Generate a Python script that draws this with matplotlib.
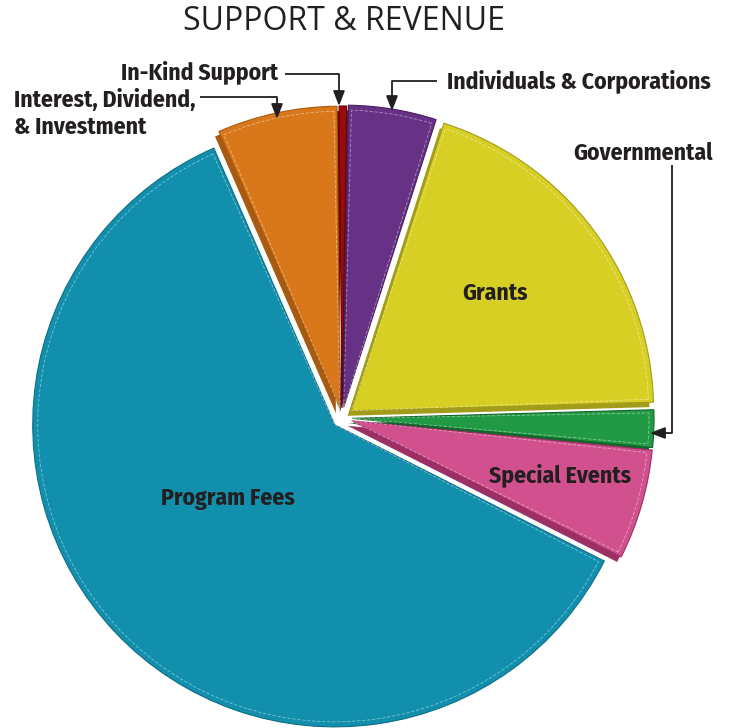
import matplotlib
matplotlib.use('Agg')
import matplotlib.pyplot as plt
from matplotlib.patches import Wedge

# ---- data ----
categories = ['Program Fees', 'Special Events', 'Governmental', 'Grants',
              'Individuals & Corporations', 'In-Kind Support',
              'Interest, Dividend,\n& Investment']
values = [61.0, 5.9, 2.0, 19.6, 4.7, 0.4, 6.4]
colors = ['#118fac', '#d1508e', '#229a45', '#d8cf24', '#673285', '#9b0b0b', '#d9781b']
dark_colors = ['#0c6f86', '#9c2f63', '#12662b', '#a39c1a', '#4a1f62', '#6b0505', '#a85a10']
title = 'SUPPORT & REVENUE'

W, H = 730, 728
def P(x, y):
    return (x, H - y)

fig = plt.figure(figsize=(7.3, 7.28), dpi=100)
ax = fig.add_axes([0, 0, 1, 1])

R = 302
cx, cy = P(342, 418)
expl = [10, 10, 10, 12, 11, 10, 10]
start = 113.6

# bevel / shadow layer
sh_wedges, _ = ax.pie(values, colors=dark_colors, startangle=start, counterclock=True,
                      radius=R, center=(cx - 4, cy - 5), explode=expl,
                      wedgeprops=dict(linewidth=0), frame=True)
sh_wedges[0].set_visible(False)

wedges, _ = ax.pie(values, colors=colors, startangle=start, counterclock=True,
                   radius=R, center=(cx, cy), explode=expl,
                   wedgeprops=dict(linewidth=0.8), frame=True)
for w, dc in zip(wedges, dark_colors):
    w.set_edgecolor(dc)

# subtle inner highlight lines
for w in wedges:
    t1, t2 = w.theta1, w.theta2
    if t2 - t1 < 3:
        continue
    hl = Wedge(w.center, w.r - 5, t1 + 0.6, t2 - 0.6, facecolor='none',
               edgecolor='white', alpha=0.45, lw=0.6, linestyle=(0, (4, 2)))
    ax.add_patch(hl)

ax.set_xlim(0, W)
ax.set_ylim(0, H)
ax.set_aspect('equal')
ax.axis('off')

txt = '#231f20'
lab_font = ['Fira Sans Condensed', 'DejaVu Sans']
fs = 17

ax.text(*P(344, 21), title, ha='center', va='center', fontsize=23,
        family=['Open Sans', 'DejaVu Sans'], color=txt)

# inner labels
ax.text(*P(495, 293), categories[3], ha='center', va='center', fontsize=fs,
        fontweight='bold', family=lab_font, color=txt)
ax.text(*P(560, 475), categories[1], ha='center', va='center', fontsize=fs,
        fontweight='bold', family=lab_font, color=txt)
ax.text(*P(228, 498), categories[0], ha='center', va='center', fontsize=fs,
        fontweight='bold', family=lab_font, color=txt)

# outer labels
ax.text(*P(447, 81), categories[4], ha='left', va='center', fontsize=fs,
        fontweight='bold', family=lab_font, color=txt)
ax.text(*P(713, 153), categories[2], ha='right', va='center', fontsize=fs,
        fontweight='bold', family=lab_font, color=txt)
ax.text(*P(278, 72), categories[5], ha='right', va='center', fontsize=fs,
        fontweight='bold', family=lab_font, color=txt)
ax.text(*P(14, 114), categories[6], ha='left', va='center', fontsize=fs,
        fontweight='bold', family=lab_font, color=txt, linespacing=1.2)

def leader(pts, tip):
    xs = [P(*p)[0] for p in pts]
    ys = [P(*p)[1] for p in pts]
    ax.plot(xs, ys, color=txt, lw=1.3, solid_capstyle='butt')
    ax.annotate('', xy=P(*tip), xytext=P(*pts[-1]),
                arrowprops=dict(arrowstyle='-|>,head_length=0.9,head_width=0.35',
                                color=txt, lw=1.3, shrinkA=0, shrinkB=0))

leader([(285, 74), (339, 74), (339, 85)], (339, 106))
leader([(200, 97), (277, 97), (277, 100)], (277, 119))
leader([(437, 81), (392, 81), (392, 92)], (392, 111))
leader([(672, 165), (672, 433), (666, 433)], (650, 433))

fig.savefig('out.png', dpi=100)
